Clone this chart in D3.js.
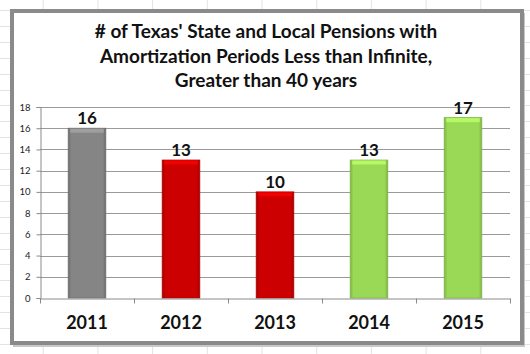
<!DOCTYPE html>
<html><head><meta charset="utf-8">
<script src="https://cdn.jsdelivr.net/npm/d3@7"></script>
<style>html,body{margin:0;padding:0;background:#fff;}svg{display:block;}</style>
</head><body>
<script>
const years = ["2011","2012","2013","2014","2015"];
const counts = [16, 13, 10, 13, 17];
const barColors = ["#858585","#cc0000","#cc0000","#99d955","#99d955"];
const yTicks = [0,2,4,6,8,10,12,14,16,18];
const titleLines = ["# of Texas' State and Local Pensions with","Amortization Periods Less than Infinite,","Greater than 40 years"];

const W = 530, H = 354;
const svg = d3.select("body").append("svg").attr("width", W).attr("height", H);
const defs = svg.append("defs");

// spreadsheet cells behind
const bg = svg.append("g").attr("stroke", "#e3e3e3").attr("stroke-width", 1);
d3.range(-12, W, 54.7).forEach(x => bg.append("line").attr("x1", x+0.5).attr("x2", x+0.5).attr("y1", 0).attr("y2", H));
d3.range(10, H, 15.9).forEach(y => bg.append("line").attr("x1", 0).attr("x2", W).attr("y1", Math.round(y)+0.5).attr("y2", Math.round(y)+0.5));

// chart frame
svg.append("rect").attr("x", 13).attr("y", 13).attr("width", 512).attr("height", 334).attr("fill", "#c8c8c8");
svg.append("rect").attr("x", 12).attr("y", 11).attr("width", 510).attr("height", 332)
  .attr("fill", "#fff").attr("stroke", "#8a8a8a").attr("stroke-width", 4);

const x = d3.scaleBand().domain(years).range([40, 510]).paddingInner(0.6).paddingOuter(0.3);
const y = d3.scaleLinear().domain([0, 18]).range([298, 107]);

// title
const t = svg.append("text").attr("text-anchor", "middle")
  .attr("font-family", "Lato, 'Open Sans', sans-serif").attr("font-weight", "bold").attr("font-size", 19).attr("fill", "#111");
titleLines.forEach((l, i) => t.append("tspan").attr("x", 266).attr("y", 38 + i*24.5).text(l));

// gridlines
svg.append("g").selectAll("line").data(yTicks.filter(d => d > 0)).join("line")
  .attr("x1", 40).attr("x2", 510).attr("y1", d => Math.round(y(d))+0.5).attr("y2", d => Math.round(y(d))+0.5)
  .attr("stroke", "#9a9a9a").attr("stroke-width", 1);

// y axis
const ya = svg.append("g").attr("transform", "translate(40.5,0)")
  .call(d3.axisLeft(y).tickValues(yTicks).tickSize(4).tickPadding(6));
ya.select(".domain").attr("stroke", "#8a8a8a");
ya.selectAll(".tick line").attr("stroke", "#8a8a8a");
ya.selectAll("text").attr("font-family", "Lato, sans-serif").attr("font-size", 9.5).attr("fill", "#222");

// bars
years.forEach((yr, i) => {
  const c = d3.color(barColors[i]);
  const g = defs.append("linearGradient").attr("id", "g"+i).attr("x1", 0).attr("x2", 1).attr("y1", 0).attr("y2", 0);
  g.append("stop").attr("offset", 0).attr("stop-color", c.darker(0.6));
  g.append("stop").attr("offset", 0.08).attr("stop-color", c);
  g.append("stop").attr("offset", 0.92).attr("stop-color", c);
  g.append("stop").attr("offset", 1).attr("stop-color", c.darker(0.6));
});
const bars = svg.append("g");
bars.selectAll("rect.bar").data(counts).join("rect").attr("class", "bar")
  .attr("x", (d, i) => x(years[i])).attr("y", d => y(d)).attr("width", x.bandwidth())
  .attr("height", d => y(0) - y(d)).attr("fill", (d, i) => `url(#g${i})`)
  .attr("stroke", (d, i) => d3.color(barColors[i]).darker(0.5)).attr("stroke-width", 0.8);
bars.selectAll("rect.top").data(counts).join("rect").attr("class", "top")
  .attr("x", (d, i) => x(years[i]) + 2).attr("y", d => y(d) + 0.5).attr("width", x.bandwidth() - 4)
  .attr("height", 4).attr("fill", (d, i) => d3.color(barColors[i]).brighter(0.6)).attr("opacity", 0.8);

// x axis
const xa = svg.append("g").attr("transform", `translate(0,${Math.round(y(0))+0.5})`)
  .call(d3.axisBottom(x).tickSize(0).tickPadding(18));
xa.select(".domain").attr("stroke", "#8a8a8a");
xa.selectAll("text").attr("font-family", "Lato, sans-serif").attr("font-weight", "bold").attr("font-size", 18).attr("fill", "#111");
const bounds = [40, 134, 228, 322, 416, 510];
xa.append("g").selectAll("line").data(bounds).join("line")
  .attr("x1", d => d + 0.5).attr("x2", d => d + 0.5).attr("y1", 0).attr("y2", 5).attr("stroke", "#8a8a8a");

// value labels
svg.append("g").selectAll("text").data(counts).join("text")
  .attr("x", (d, i) => x(years[i]) + x.bandwidth()/2).attr("y", d => y(d) - 4)
  .attr("text-anchor", "middle").attr("font-family", "Lato, sans-serif").attr("font-weight", "bold")
  .attr("font-size", 17).attr("fill", "#111").text(d => d);
</script>
</body></html>
